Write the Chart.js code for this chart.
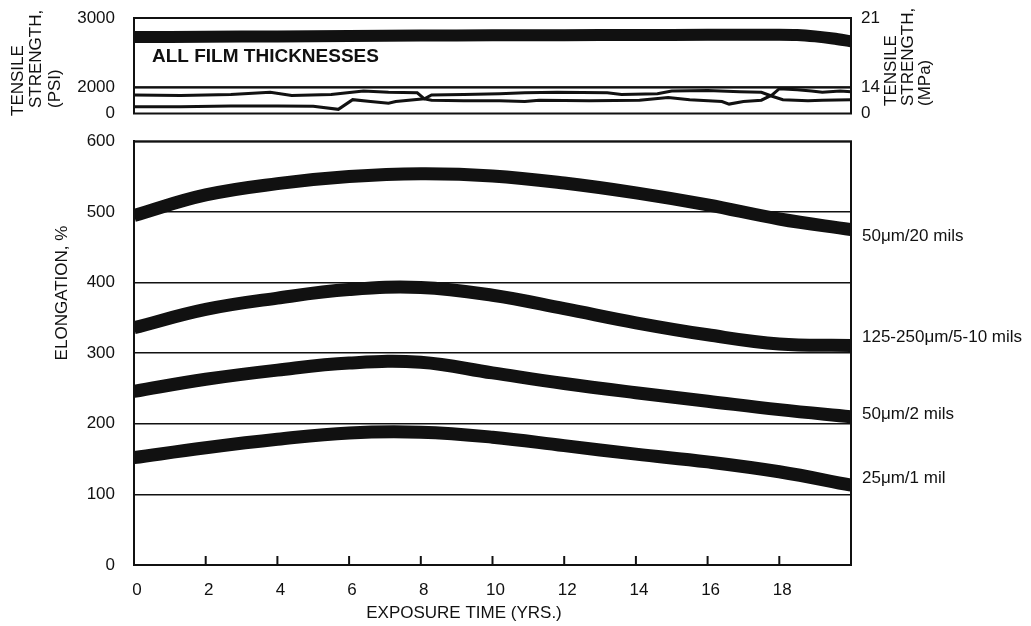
<!DOCTYPE html>
<html>
<head>
<meta charset="utf-8">
<script src="https://cdn.jsdelivr.net/npm/chart.js@4.4.1/dist/chart.umd.min.js"></script>
<style>
  body { margin: 0; background: #fff; }
  #wrap { position: relative; width: 1031px; height: 626px; }
  canvas { position: absolute; left: 0; }
  #top { top: 0; }
  #bottom { top: 130px; }
</style>
</head>
<body>
<div id="wrap">
  <canvas id="top" width="1031" height="130"></canvas>
  <canvas id="bottom" width="1031" height="496"></canvas>
</div>
<script>
// exposure time, years
const years = [0, 2, 4, 6, 8, 10, 12, 14, 16, 18, 20];
const xTicks = [0, 2, 4, 6, 8, 10, 12, 14, 16, 18];

// elongation, % (one curve per film thickness)
const seriesNames = ['50μm/20 mils', '125-250μm/5-10 mils', '50μm/2 mils', '25μm/1 mil'];
const elong20mil = [495, 524, 540, 550, 554, 551, 541, 527, 510, 490, 475];
const elong5to10mil = [336, 362, 378, 390, 393, 382, 363, 343, 326, 313, 311];
const elong2mil = [246, 263, 276, 286, 287, 272, 257, 244, 232, 220, 210];
const elong1mil = [152, 166, 178, 187, 188, 181, 169, 157, 146, 132, 113];
// where the curve names sit on the right hand side (elongation units)
const nameLevels = [466, 323, 214, 123];
const elongTicks = [0, 100, 200, 300, 400, 500, 600];

// tensile strength, all film thicknesses (psi)
const tensileYears = [0, 2, 4, 6, 8, 10, 12, 14, 16, 18, 18.5, 19, 19.5, 20];
const tensilePsi = [2725, 2730, 2735, 2742, 2747, 2750, 2753, 2755, 2758, 2760, 2755, 2735, 2705, 2665];

// the two thin traces in the compressed lower band (psi)
const traceAYears = [0, 1.3, 2.7, 3.8, 4.4, 5.5, 6.4, 7.1, 7.9, 8.1, 8.3, 9.2, 10.2, 10.9, 11.3, 12.7, 14.1, 14.9, 15.5, 16.4, 16.6, 17.0, 17.5, 17.8, 18.0, 18.5, 18.9, 19.2, 19.7, 20];
const traceAPsi = [1420, 1380, 1460, 1620, 1380, 1460, 1720, 1620, 1580, 1120, 1020, 980, 980, 920, 1020, 980, 1020, 1220, 1060, 920, 720, 920, 1020, 1420, 1900, 1820, 1720, 1620, 1720, 1660];
const traceBYears = [0, 1.3, 2.7, 4.0, 5.0, 5.7, 6.1, 6.6, 7.1, 7.3, 8.1, 8.3, 9.2, 10.2, 10.9, 11.8, 13.2, 13.6, 14.6, 15.0, 16.0, 16.9, 17.5, 17.8, 18.1, 18.8, 19.2, 20];
const traceBPsi = [520, 520, 580, 580, 560, 320, 1060, 920, 780, 920, 1120, 1420, 1460, 1520, 1580, 1620, 1580, 1460, 1520, 1720, 1760, 1660, 1620, 1320, 1060, 980, 1020, 1060];

const psiTicksHigh = [3000, 2000];
const psiTicksLow = [0];
const mpaTicksHigh = [21, 14];
const mpaTicksLow = [0];

const FONT = "'Liberation Sans', Arial, Helvetica, sans-serif";
Chart.defaults.font.family = FONT;
Chart.defaults.font.size = 17;
Chart.defaults.color = '#111';

const pts = (xs, ys) => xs.map((x, i) => ({ x: x, y: ys[i] }));
const fixTicks = list => scale => { scale.ticks = list.map(v => ({ value: v })); };
// fixed axis width, and no extra room for half labels at the ends
const fixWidth = w => scale => {
  scale.width = w;
  scale.paddingTop = 0;
  scale.paddingBottom = 0;
};
const plain = v => String(v);

// free text (axis titles, captions)
const textPlugin = {
  id: 'texts',
  afterDraw(chart, args, opts) {
    const ctx = chart.ctx;
    (opts.items || []).forEach(t => {
      ctx.save();
      ctx.font = t.font || ('17px ' + FONT);
      ctx.fillStyle = '#111';
      ctx.textAlign = t.align || 'center';
      ctx.textBaseline = 'middle';
      ctx.translate(t.x, t.y);
      if (t.rotate) ctx.rotate(-Math.PI / 2);
      ctx.fillText(t.text, 0, 0);
      ctx.restore();
    });
  }
};

// box round every left y scale (gives the frame and the divider of the split axis)
const framePlugin = {
  id: 'frame',
  afterDatasetsDraw(chart) {
    const ctx = chart.ctx;
    const a = chart.chartArea;
    ctx.save();
    ctx.strokeStyle = '#111';
    ctx.lineWidth = 2;
    Object.values(chart.scales).forEach(s => {
      if (s.axis === 'y' && s.position === 'left') {
        ctx.strokeRect(a.left, s.top, a.right - a.left, s.bottom - s.top);
      }
    });
    ctx.restore();
  }
};

// short tick marks pointing up into the plot
const innerTicks = {
  id: 'innerTicks',
  afterDatasetsDraw(chart) {
    const x = chart.scales.x;
    const ctx = chart.ctx;
    const b = chart.chartArea.bottom;
    ctx.save();
    ctx.strokeStyle = '#111';
    ctx.lineWidth = 2;
    x.ticks.forEach(t => {
      if (t.value === 0) return;
      const px = x.getPixelForValue(t.value);
      ctx.beginPath();
      ctx.moveTo(px, b);
      ctx.lineTo(px, b - 9);
      ctx.stroke();
    });
    ctx.restore();
  }
};

const sideAxis = (pos, stack, weight, min, max, list, width, pad) => ({
  type: 'linear', position: pos, stack: stack, stackWeight: weight, min: min, max: max,
  afterBuildTicks: fixTicks(list), afterFit: fixWidth(width),
  grid: { display: false, drawTicks: false }, border: { display: false },
  ticks: { padding: pad, callback: plain }
});

// ---- top panel: tensile strength ----
new Chart(document.getElementById('top'), {
  type: 'line',
  data: {
    datasets: [
      { data: pts(tensileYears, tensilePsi), yAxisID: 'yHigh', borderColor: '#111', borderWidth: 12, pointRadius: 0, tension: 0.3 },
      { data: pts(traceAYears, traceAPsi), yAxisID: 'yLow', borderColor: '#111', borderWidth: 3, pointRadius: 0, tension: 0 },
      { data: pts(traceBYears, traceBPsi), yAxisID: 'yLow', borderColor: '#111', borderWidth: 3, pointRadius: 0, tension: 0 }
    ]
  },
  options: {
    responsive: false,
    animation: false,
    devicePixelRatio: 1,
    layout: { padding: { top: 18, bottom: 16.5, left: 0, right: 0 } },
    plugins: {
      legend: { display: false },
      tooltip: { enabled: false },
      texts: {
        items: [
          { text: 'TENSILE', x: 18, y: 116, rotate: true, align: 'left' },
          { text: 'STRENGTH,', x: 36, y: 108, rotate: true, align: 'left' },
          { text: '(PSI)', x: 55, y: 108, rotate: true, align: 'left' },
          { text: 'TENSILE', x: 891, y: 106, rotate: true, align: 'left' },
          { text: 'STRENGTH,', x: 908, y: 106, rotate: true, align: 'left' },
          { text: '(MPa)', x: 925, y: 106, rotate: true, align: 'left' },
          { text: 'ALL FILM THICKNESSES', x: 152, y: 57, align: 'left', font: 'bold 19px ' + FONT }
        ]
      }
    },
    scales: {
      x: { type: 'linear', min: 0, max: 20, display: false },
      yLow: sideAxis('left', 'psi', 26, 0, 2000, psiTicksLow, 134, 19),
      yHigh: sideAxis('left', 'psi', 69, 2000, 3000, psiTicksHigh, 134, 19),
      mHigh: sideAxis('right', 'mpa', 69, 14, 21, mpaTicksHigh, 180, 10),
      mLow: sideAxis('right', 'mpa', 26, 0, 14, mpaTicksLow, 180, 10)
    }
  },
  plugins: [textPlugin, framePlugin]
});

// ---- bottom panel: elongation ----
const elongSeries = [elong20mil, elong5to10mil, elong2mil, elong1mil];
new Chart(document.getElementById('bottom'), {
  type: 'line',
  data: {
    datasets: elongSeries.map((vals, i) => ({
      label: seriesNames[i],
      data: pts(years, vals),
      borderColor: '#111',
      borderWidth: 13,
      borderCapStyle: 'butt',
      pointRadius: 0,
      tension: 0.4
    }))
  },
  options: {
    responsive: false,
    animation: false,
    devicePixelRatio: 1,
    layout: { padding: { top: 11.3, bottom: 0, left: 0, right: 0 } },
    plugins: {
      legend: { display: false },
      tooltip: { enabled: false },
      texts: {
        items: [
          { text: 'ELONGATION, %', x: 62, y: 163, rotate: true },
          { text: 'EXPOSURE TIME (YRS.)', x: 464, y: 483 }
        ]
      }
    },
    scales: {
      x: {
        type: 'linear', min: 0, max: 20,
        afterBuildTicks: fixTicks(xTicks),
        afterFit: scale => { scale.height = 61; scale.paddingLeft = 0; scale.paddingRight = 0; },
        grid: { display: false, drawTicks: false },
        border: { display: true, color: '#111', width: 2 },
        ticks: { padding: 15, labelOffset: 3, maxRotation: 0, autoSkip: false, callback: plain }
      },
      y: {
        type: 'linear', position: 'left', min: 0, max: 600,
        afterBuildTicks: fixTicks(elongTicks), afterFit: fixWidth(134),
        grid: { color: '#111', lineWidth: 1.5, drawTicks: false },
        border: { display: true, color: '#111', width: 2 },
        ticks: { padding: 19, callback: plain }
      },
      yNames: {
        type: 'linear', position: 'right', min: 0, max: 600,
        afterBuildTicks: fixTicks(nameLevels), afterFit: fixWidth(180),
        grid: { display: false, drawTicks: false }, border: { display: false },
        ticks: { padding: 11, autoSkip: false, callback: (v, i) => seriesNames[i] }
      }
    }
  },
  plugins: [textPlugin, framePlugin, innerTicks]
});
</script>
</body>
</html>
